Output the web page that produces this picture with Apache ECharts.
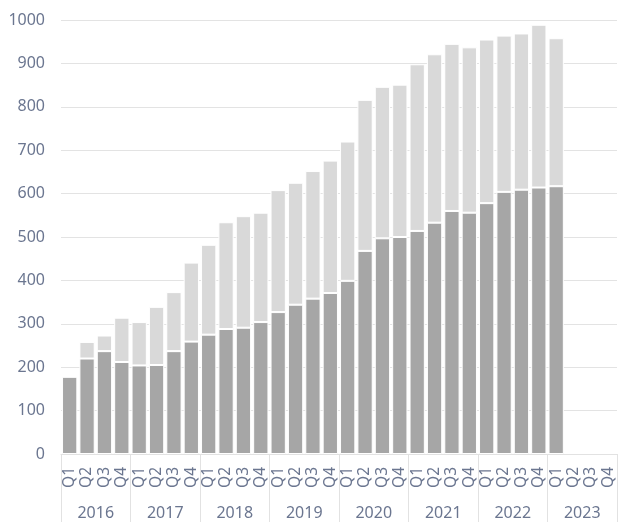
<!DOCTYPE html>
<html><head><meta charset="utf-8">
<script src="https://cdn.jsdelivr.net/npm/echarts@6/dist/echarts.min.js"></script>
<style>html,body{margin:0;padding:0;background:#fff}#c{width:619px;height:522px}</style>
</head><body><div id="c"></div>
<script>
const years = ['2016','2017','2018','2019','2020','2021','2022','2023'];
const quarters = ['Q1','Q2','Q3','Q4'];
const darkValues = [178,220,237,212, 204,205,237,259, 275,288,291,304, 327,344,358,371, 399,468,497,500, 514,533,560,556, 578,604,609,614, 617,null,null,null];
const lightValues = [0,38,36,102, 100,134,136,182, 207,246,257,252, 281,281,294,305, 321,348,349,351, 384,388,385,381, 377,360,360,375, 341,null,null,null];
const yTicks = [0,100,200,300,400,500,600,700,800,900,1000];

const categories = [];
years.forEach(y => quarters.forEach(q => categories.push(q)));

const labelColor = '#6b7690';
const font = '"Noto Sans", sans-serif';
const chart = echarts.init(document.getElementById('c'), null, {renderer:'canvas'});
chart.setOption({
  animation:false,
  grid:{left:61,right:2,top:20,bottom:68,containLabel:false},
  xAxis:[{
    type:'category', data:categories, position:'bottom',
    axisLine:{show:true,lineStyle:{color:'#e2e2e2',width:1}},
    axisTick:{show:false},
    axisLabel:{rotate:90,margin:13,color:labelColor,fontSize:15.5,fontFamily:font,interval:0}
  },{
    type:'category', data:years, position:'bottom',
    axisLine:{show:false},
    axisTick:{show:true,length:68,lineStyle:{color:'#e2e2e2',width:1}},
    axisLabel:{margin:51,color:labelColor,fontSize:16,fontFamily:font,interval:0},
    splitLine:{show:false}
  }],
  yAxis:{
    type:'value', min:yTicks[0], max:yTicks[yTicks.length-1], interval:100,
    axisLine:{show:false}, axisTick:{show:false},
    axisLabel:{margin:16,color:labelColor,fontSize:16,fontFamily:font,formatter:v=>String(v)},
    splitLine:{lineStyle:{color:'#e3e3e3',width:1}}
  },
  series:[{
    type:'bar', stack:'t', data:darkValues, xAxisIndex:0,
    barCategoryGap:'12%',
    itemStyle:{color:'#a6a6a6',borderColor:'#ffffff',borderWidth:1}
  },{
    type:'bar', stack:'t', data:lightValues, xAxisIndex:0,
    barCategoryGap:'12%',
    itemStyle:{color:'#d9d9d9',borderColor:'#ffffff',borderWidth:1}
  }]
});
</script></body></html>
